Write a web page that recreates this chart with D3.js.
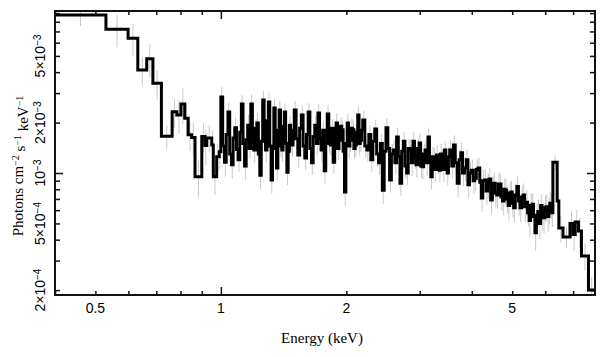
<!DOCTYPE html>
<html>
<head>
<meta charset="utf-8">
<script src="https://cdn.jsdelivr.net/npm/d3@7"></script>
<style>
  body { margin: 0; background: #fff; }
  svg { display: block; }
</style>
</head>
<body>
<svg width="608" height="357"></svg>
<script>
'use strict';

// Bin edges in keV (N+1 entries, last one closes the final bin)
const edges = [
    0.400, 0.530, 0.599, 0.632, 0.664, 0.687, 0.720, 0.764, 0.784, 0.802, 0.819,
    0.835, 0.851, 0.867, 0.900, 0.916, 0.925, 0.951, 0.959, 0.977, 0.991,
    1.00, 1.01, 1.02, 1.03, 1.04, 1.05, 1.06, 1.07, 1.08, 1.09, 1.10, 1.11, 1.12, 1.13,
    1.14, 1.15, 1.16, 1.17, 1.18, 1.19, 1.20, 1.21, 1.22, 1.23, 1.24, 1.25, 1.26, 1.27,
    1.28, 1.29, 1.30, 1.31, 1.32, 1.33, 1.34, 1.35, 1.36, 1.37, 1.38, 1.39, 1.40, 1.41,
    1.42, 1.43, 1.44, 1.45, 1.46, 1.47, 1.48, 1.49,
    1.500, 1.515, 1.530, 1.545, 1.560, 1.575, 1.590, 1.605, 1.620, 1.635, 1.650, 1.665,
    1.680, 1.695, 1.710, 1.725, 1.740, 1.755, 1.770, 1.785, 1.800, 1.815, 1.830, 1.845,
    1.860, 1.875, 1.890, 1.905, 1.920, 1.935, 1.950, 1.965, 1.980, 1.995, 2.010, 2.025,
    2.040, 2.055, 2.070, 2.085, 2.100, 2.115, 2.130, 2.145, 2.160, 2.175,
    2.190, 2.215, 2.240, 2.265, 2.290, 2.315, 2.340, 2.365, 2.390, 2.415, 2.440, 2.465,
    2.490, 2.515, 2.540, 2.565, 2.590, 2.615, 2.640, 2.665, 2.690, 2.715, 2.740, 2.765,
    2.790, 2.815, 2.840, 2.865, 2.890, 2.915, 2.940, 2.965, 2.990, 3.015, 3.040, 3.065,
    3.090, 3.115, 3.140, 3.165, 3.190, 3.215, 3.240, 3.265, 3.290, 3.315, 3.340, 3.365,
    3.390, 3.415, 3.440, 3.465, 3.490, 3.515,
    3.54, 3.58, 3.615, 3.65, 3.69, 3.73, 3.765, 3.80, 3.84, 3.88, 3.915, 3.95, 3.99, 4.03,
    4.065, 4.10, 4.14, 4.18, 4.215, 4.25, 4.29, 4.33, 4.365, 4.40, 4.44, 4.48, 4.515, 4.55,
    4.59, 4.63, 4.665, 4.70, 4.74, 4.78, 4.815, 4.85, 4.89, 4.93, 4.965, 5.00,
    5.04, 5.085, 5.13, 5.175, 5.22, 5.265, 5.31, 5.355, 5.40, 5.445, 5.49, 5.535, 5.58,
    5.625, 5.67, 5.715, 5.76, 5.805, 5.85, 5.895, 5.94, 5.985, 6.03, 6.075, 6.12, 6.155,
    6.19, 6.225,
    6.26, 6.41, 6.47, 6.62, 6.88, 7.00, 7.08, 7.21, 7.33, 7.62, 7.90
];

// Unfolded flux per bin, in units of 1e-3 photons cm^-2 s^-1 keV^-1
const fluxE3 = [
    8.78, 7.21, 6.37, 4.12, 4.81, 3.43, 1.66, 2.32, 2.22, 2.58, 2.12, 1.69, 1.63, 0.95,
    1.65, 1.46, 1.62, 1.47, 0.95, 1.25, 1.34,
    2.84, 1.45, 1.16, 1.70, 2.31, 1.30, 1.12, 1.62, 1.86, 1.38, 1.20, 1.75, 2.58, 1.50,
    1.10, 1.58, 1.93, 1.40, 2.58, 1.65, 1.37, 1.85, 1.99, 1.30, 0.97, 1.55, 2.73, 1.60,
    1.37, 2.05, 2.65, 1.45, 0.91, 1.40, 2.44, 1.55, 1.07, 1.80, 2.38, 1.45, 1.37, 1.90,
    2.31, 1.50, 1.01, 1.35, 1.93, 1.55, 1.47, 1.80,
    2.38, 1.60, 1.28, 1.85, 2.22, 1.45, 1.23, 1.70, 2.31, 1.40, 1.15, 1.65, 1.93, 1.50,
    2.28, 1.60, 1.37, 1.80, 1.03, 1.50, 2.25, 1.55, 1.47, 1.85, 1.16, 1.60, 1.99, 1.40,
    1.57, 1.90, 1.81, 1.35, 0.77, 1.50, 1.99, 1.45, 1.57, 1.85, 1.81, 1.40, 1.47, 1.75,
    2.22, 1.50, 1.57, 1.80,
    2.07, 1.45, 1.37, 1.70, 1.20, 1.55, 1.83, 1.30, 1.15, 1.50, 0.79, 1.35, 1.86, 1.40,
    0.91, 1.30, 1.37, 1.15, 1.64, 1.25, 0.87, 1.35, 1.55, 1.10, 1.00, 1.40, 1.37, 1.15,
    1.55, 1.25, 1.12, 1.40, 1.51, 1.10, 1.09, 1.30, 1.37, 1.15, 1.64, 1.20, 0.95, 1.25,
    1.23, 1.05, 1.28, 1.15, 1.04, 1.30, 1.20, 1.05, 1.37, 1.15, 1.00, 1.25,
    1.37, 1.10, 1.47, 1.15, 0.87, 1.20, 1.32, 1.00, 1.07, 1.20, 0.85, 1.00, 1.04, 0.90,
    0.93, 1.05, 1.07, 0.88, 0.71, 0.90, 0.91, 0.78, 0.85, 0.92, 0.69, 0.82, 0.87, 0.76,
    0.74, 0.86, 0.86, 0.72, 0.68, 0.80, 0.79, 0.70, 0.64, 0.76, 0.77, 0.66,
    0.62, 0.74, 0.83, 0.68, 0.62, 0.72, 0.74, 0.63, 0.67, 0.58, 0.52, 0.64, 0.65, 0.55,
    0.44, 0.56, 0.59, 0.50, 0.64, 0.55, 0.54, 0.62, 0.63, 0.55, 0.60, 0.66, 0.64, 0.58,
    1.16, 0.68, 0.47, 0.415, 0.50, 0.43, 0.51, 0.45, 0.32, 0.20
];

// 1-sigma errors as a fraction of the flux
const relErr = [
    0.14, 0.22, 0.22, 0.20, 0.22, 0.20, 0.16, 0.20, 0.22, 0.24, 0.22, 0.20, 0.22, 0.25,
    0.20, 0.24, 0.18, 0.22, 0.22, 0.20, 0.22,
    0.15, 0.13, 0.18, 0.14, 0.14, 0.15, 0.17, 0.13, 0.16, 0.14, 0.15, 0.13, 0.13, 0.15,
    0.17, 0.14, 0.15, 0.13, 0.14, 0.15, 0.16, 0.13, 0.15, 0.14, 0.18, 0.13, 0.13, 0.15,
    0.16, 0.14, 0.14, 0.13, 0.17, 0.15, 0.13, 0.14, 0.16, 0.13, 0.14, 0.15, 0.15, 0.14,
    0.13, 0.15, 0.16, 0.14, 0.14, 0.13, 0.15, 0.14,
    0.13, 0.14, 0.16, 0.13, 0.14, 0.15, 0.15, 0.13, 0.13, 0.14, 0.15, 0.13, 0.14, 0.15,
    0.13, 0.14, 0.15, 0.13, 0.16, 0.14, 0.13, 0.15, 0.14, 0.13, 0.15, 0.14, 0.14, 0.15,
    0.15, 0.13, 0.14, 0.14, 0.17, 0.13, 0.14, 0.15, 0.15, 0.14, 0.14, 0.13, 0.15, 0.14,
    0.13, 0.15, 0.15, 0.14,
    0.14, 0.15, 0.15, 0.14, 0.16, 0.15, 0.14, 0.16, 0.15, 0.14, 0.17, 0.15, 0.14, 0.16,
    0.16, 0.15, 0.15, 0.14, 0.14, 0.16, 0.16, 0.15, 0.14, 0.16, 0.15, 0.14, 0.15, 0.16,
    0.14, 0.15, 0.16, 0.14, 0.14, 0.15, 0.16, 0.15, 0.15, 0.16, 0.14, 0.15, 0.16, 0.14,
    0.15, 0.16, 0.15, 0.14, 0.16, 0.15, 0.15, 0.16, 0.14, 0.15, 0.16, 0.15,
    0.15, 0.16, 0.14, 0.15, 0.17, 0.15, 0.15, 0.16, 0.16, 0.15, 0.17, 0.16, 0.16, 0.17,
    0.16, 0.15, 0.15, 0.17, 0.18, 0.16, 0.16, 0.17, 0.17, 0.16, 0.18, 0.17, 0.16, 0.18,
    0.17, 0.16, 0.16, 0.17, 0.18, 0.16, 0.17, 0.18, 0.18, 0.17, 0.17, 0.18,
    0.18, 0.17, 0.16, 0.18, 0.18, 0.17, 0.17, 0.19, 0.18, 0.17, 0.20, 0.18, 0.17, 0.19,
    0.22, 0.18, 0.18, 0.19, 0.17, 0.18, 0.19, 0.18, 0.18, 0.19, 0.18, 0.17, 0.17, 0.18,
    0.10, 0.16, 0.18, 0.14, 0.18, 0.20, 0.18, 0.20, 0.18, 0.20
];

const xLabels = [0.5, 1, 2, 5];
const yLabels = [[2, -4], [5, -4], [1, -3], [2, -3], [5, -3]];   // mantissa, exponent

console.assert(edges.length === fluxE3.length + 1 && relErr.length === fluxE3.length,
    "bin arrays out of step", edges.length, fluxE3.length, relErr.length);

const svg = d3.select("svg"),
    width = +svg.attr("width"),
    height = +svg.attr("height"),
    margin = {top: 11, right: 13, bottom: 62, left: 55};

const x = d3.scaleLog()
    .domain([0.4, 7.9])
    .range([margin.left, width - margin.right]);

const y = d3.scaleLog()
    .domain([1.87e-4, 9.27e-3])
    .range([height - margin.bottom, margin.top]);

const bins = fluxE3.map((f, i) => ({
    lo: edges[i],
    hi: edges[i + 1],
    v: f * 1e-3,
    err: f * 1e-3 * relErr[i]
}));

svg.append("defs").append("clipPath")
    .attr("id", "plot-clip")
    .append("rect")
    .attr("x", x.range()[0])
    .attr("y", y.range()[1])
    .attr("width", x.range()[1] - x.range()[0])
    .attr("height", y.range()[0] - y.range()[1]);

const plot = svg.append("g").attr("clip-path", "url(#plot-clip)");

// error bars (light grey, behind the histogram)
plot.append("g")
    .attr("class", "errors")
    .selectAll("line")
    .data(bins)
    .enter().append("line")
    .attr("x1", d => x(Math.sqrt(d.lo * d.hi)))
    .attr("x2", d => x(Math.sqrt(d.lo * d.hi)))
    .attr("y1", d => y(d.v + d.err))
    .attr("y2", d => y(d.v - d.err))
    .attr("stroke", "#c8c8c8")
    .attr("stroke-width", 1);

// stepped histogram
const steps = bins.map(d => [d.lo, d.v])
    .concat([[edges[edges.length - 1], bins[bins.length - 1].v]]);

const line = d3.line()
    .x(d => x(d[0]))
    .y(d => y(d[1]))
    .curve(d3.curveStepAfter);

plot.append("path")
    .datum(steps)
    .attr("d", line)
    .attr("fill", "none")
    .attr("stroke", "#000")
    .attr("stroke-width", 3)
    .attr("stroke-linejoin", "miter");

// ticks on all four sides, pointing inwards
const x0 = x.range()[0], x1 = x.range()[1],
    y0 = y.range()[0], y1 = y.range()[1];
const xMinor = x.ticks().filter(d => d !== 1),
    yMinor = y.ticks().filter(d => Math.abs(d - 1e-3) > 1e-9);

function tickAxis(axis, translate) {
    const g = svg.append("g")
        .attr("transform", translate)
        .call(axis);
    g.select(".domain").remove();
    g.selectAll("line").attr("stroke", "#111").attr("stroke-width", 1.5);
    g.selectAll("text").remove();
}

tickAxis(d3.axisBottom(x).tickValues(xMinor).tickSize(-4), `translate(0,${y0})`);
tickAxis(d3.axisBottom(x).tickValues([1]).tickSize(-8), `translate(0,${y0})`);
tickAxis(d3.axisTop(x).tickValues(xMinor).tickSize(-4), `translate(0,${y1})`);
tickAxis(d3.axisTop(x).tickValues([1]).tickSize(-8), `translate(0,${y1})`);
tickAxis(d3.axisLeft(y).tickValues(yMinor).tickSize(-5), `translate(${x0},0)`);
tickAxis(d3.axisLeft(y).tickValues([1e-3]).tickSize(-8), `translate(${x0},0)`);
tickAxis(d3.axisRight(y).tickValues(yMinor).tickSize(-5), `translate(${x1},0)`);
tickAxis(d3.axisRight(y).tickValues([1e-3]).tickSize(-8), `translate(${x1},0)`);

// frame
svg.append("rect")
    .attr("x", x0)
    .attr("y", y1)
    .attr("width", x1 - x0)
    .attr("height", y0 - y1)
    .attr("fill", "none")
    .attr("stroke", "#111")
    .attr("stroke-width", 2);

// tick labels
svg.append("g")
    .selectAll("text")
    .data(xLabels)
    .enter().append("text")
    .attr("x", d => x(d))
    .attr("y", y0 + 18)
    .attr("text-anchor", "middle")
    .style("font", "14px 'Liberation Sans', Arial, sans-serif")
    .text(d => d);

const yText = svg.append("g")
    .selectAll("text")
    .data(yLabels)
    .enter().append("text")
    .attr("transform", d => `translate(${x0 - 10},${y(d[0] * Math.pow(10, d[1]))}) rotate(-90)`)
    .attr("text-anchor", "middle")
    .style("font", "14px 'Liberation Sans', Arial, sans-serif");

yText.append("tspan")
    .text(d => d[0] === 1 ? "10" : d[0] + "\u00d710");
yText.append("tspan")
    .attr("dy", "-0.45em")
    .style("font-size", "10px")
    .text(d => "\u2212" + Math.abs(d[1]));

// axis titles
svg.append("text")
    .attr("x", (x0 + x1) / 2 - 3)
    .attr("y", height - 14)
    .attr("text-anchor", "middle")
    .style("font", "15px 'Liberation Serif', 'Times New Roman', serif")
    .text("Energy (keV)");

const yTitle = svg.append("text")
    .attr("transform", `translate(23,${(y0 + y1) / 2 + 13}) rotate(-90)`)
    .attr("text-anchor", "middle")
    .style("font", "15px 'Liberation Serif', 'Times New Roman', serif");

[["Photons cm", null], ["\u22122", "sup"], [" s", null], ["\u22121", "sup"], [" keV", null], ["\u22121", "sup"]]
    .forEach(([t, kind], i, parts) => {
        const span = yTitle.append("tspan").text(t);
        if (kind === "sup") {
            span.attr("dy", "-0.45em").style("font-size", "10px");
        } else if (i > 0 && parts[i - 1][1] === "sup") {
            span.attr("dy", "0.45em");
        }
    });
</script>
</body>
</html>
